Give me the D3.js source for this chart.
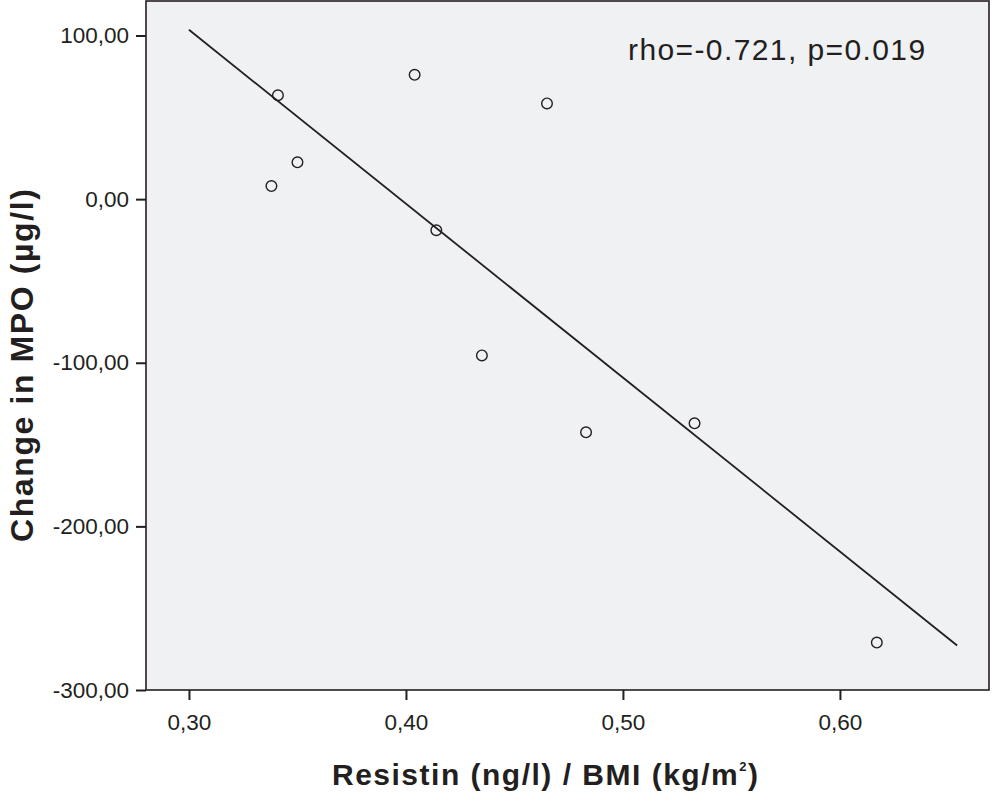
<!DOCTYPE html>
<html lang="en">
<head>
<meta charset="utf-8">
<title>Change in MPO vs Resistin/BMI</title>
<script src="https://d3js.org/d3.v7.min.js"></script>
<style>
  body { margin: 0; background: #fff; }
  svg text { font-family: Arial, "Liberation Sans", sans-serif; fill: #231f20; }
</style>
</head>
<body>
<div id="vis"></div>
<script>
// Data
var resistinBmi = [0.341, 0.338, 0.350, 0.404, 0.414, 0.465, 0.435, 0.483, 0.533, 0.617];
var mpoChange   = [63.5, 8.0, 22.5, 76.0, -19.0, 58.5, -95.5, -142.5, -137.0, -271.0];
var fitX = [0.30, 0.654];
var fitY = [103.5, -272.8];
var xTicks = [0.30, 0.40, 0.50, 0.60];
var yTicks = [100, 0, -100, -200, -300];
var annotation = "rho=-0.721, p=0.019";

// Setup
var width = 992, height = 811;
var plot = { left: 146, top: 1, right: 989, bottom: 690 };

var svg = d3.select("#vis").append("svg")
    .attr("width", width)
    .attr("height", height);

var x = d3.scaleLinear()
    .domain([0.2802, 0.6687])
    .range([plot.left, plot.right]);
var y = d3.scaleLinear()
    .domain([-300, 121.1])
    .range([plot.bottom, plot.top]);

var fmt = function(d, n) { return d.toFixed(n).replace(".", ","); };

// Plot background and frame
svg.append("rect")
    .attr("x", plot.left).attr("y", plot.top)
    .attr("width", plot.right - plot.left)
    .attr("height", plot.bottom - plot.top)
    .attr("fill", "#f0f1f3")
    .attr("stroke", "#231f20")
    .attr("stroke-width", 1.6);

// Axes
var xAxis = svg.append("g")
    .attr("transform", "translate(0," + plot.bottom + ")")
    .call(d3.axisBottom(x).tickValues(xTicks).tickSize(10).tickPadding(14)
        .tickFormat(function(d) { return fmt(d, 2); }));
var yAxis = svg.append("g")
    .attr("transform", "translate(" + plot.left + ",0)")
    .call(d3.axisLeft(y).tickValues(yTicks).tickSize(10).tickPadding(7)
        .tickFormat(function(d) { return fmt(d, 2); }));

[xAxis, yAxis].forEach(function(a) {
    a.select(".domain").remove();
    a.selectAll(".tick line").attr("stroke", "#231f20").attr("stroke-width", 2);
    a.selectAll(".tick text")
        .attr("font-size", 22.5)
        .style("font-family", "Arial, 'Liberation Sans', sans-serif")
        .attr("fill", "#231f20");
});

// Fit line
svg.append("line")
    .attr("x1", x(fitX[0])).attr("y1", y(fitY[0]))
    .attr("x2", x(fitX[1])).attr("y2", y(fitY[1]))
    .attr("stroke", "#231f20")
    .attr("stroke-width", 1.8);

// Points
svg.append("g").selectAll("circle")
    .data(resistinBmi.map(function(v, i) { return [v, mpoChange[i]]; }))
    .join("circle")
    .attr("cx", function(d) { return x(d[0]); })
    .attr("cy", function(d) { return y(d[1]); })
    .attr("r", 5.3)
    .attr("fill", "none")
    .attr("stroke", "#231f20")
    .attr("stroke-width", 1.4);

// Annotation
svg.append("text")
    .attr("x", 628).attr("y", 60)
    .attr("font-size", 30)
    .attr("letter-spacing", 1.4)
    .text(annotation);

// Axis titles
var xt = svg.append("text")
    .attr("x", 332)
    .attr("y", 785)
    .attr("font-size", 30)
    .attr("letter-spacing", 1.5)
    .attr("font-weight", "bold");
xt.append("tspan").text("Resistin (ng/l) / BMI (kg/m");
xt.append("tspan").attr("font-size", 13).attr("dy", -14).text("2");
xt.append("tspan").attr("dy", 14).text(")");

svg.append("text")
    .attr("transform", "translate(33,542) rotate(-90)")
    .attr("font-size", 32)
    .attr("letter-spacing", 1.6)
    .attr("font-weight", "bold")
    .text("Change in MPO (\u00b5g/l)");
</script>
</body>
</html>
